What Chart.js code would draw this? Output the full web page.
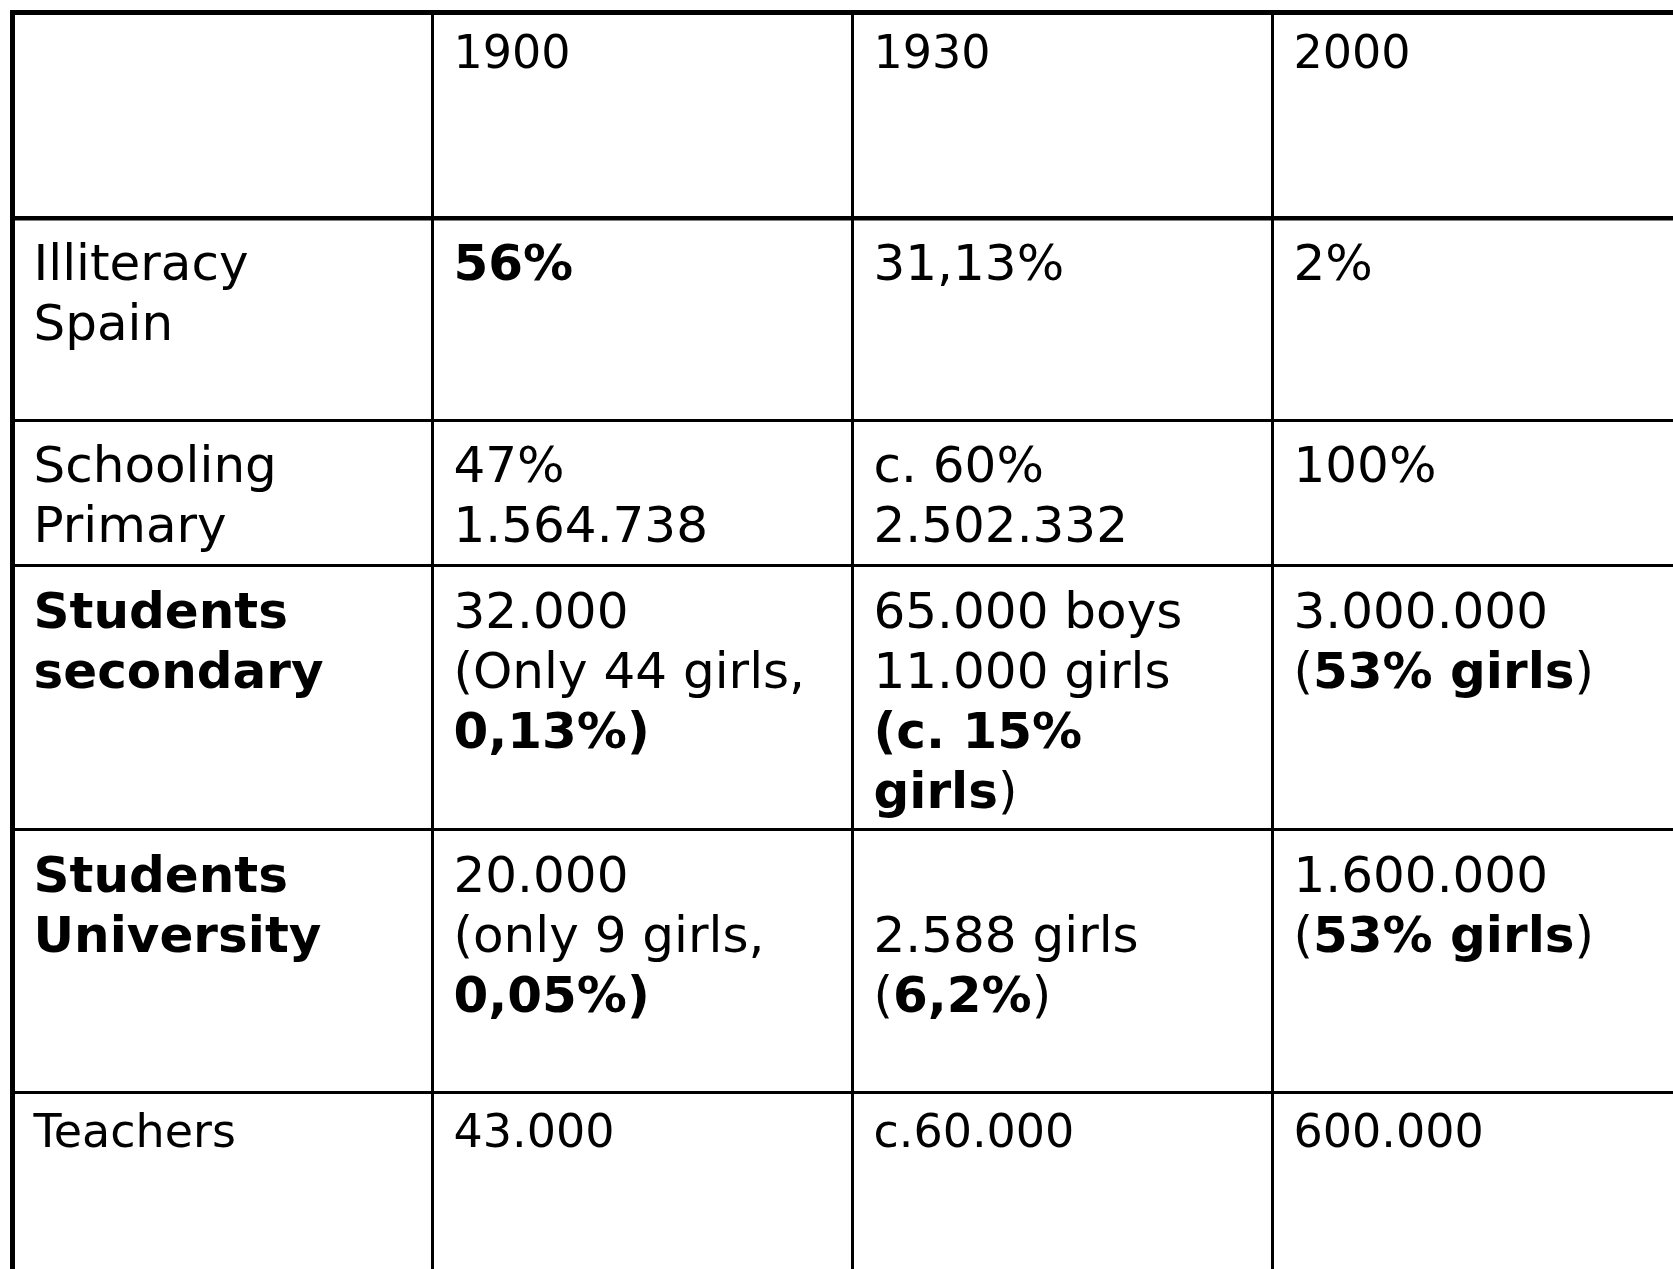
<!DOCTYPE html>
<html>
<head>
  <title>Education in Spain 1900 - 2000</title>
  <script src="https://cdn.jsdelivr.net/npm/chart.js"></script>
  <style>
    body {
        margin: 0;
        background: #fff;
    }
    .wrap {
        width: 1673px;
        height: 1269px;
    }
  </style>
</head>
<body>
  <div class="wrap"><canvas id="tableChart"></canvas></div>

  <script>
    // column headers and row labels (*...* = bold)
    const years = ['1900', '1930', '2000'];
    const rowLabels = [
      ['Illiteracy', 'Spain'],
      ['Schooling', 'Primary'],
      ['*Students*', '*secondary*'],
      ['*Students*', '*University*'],
      ['Teachers']
    ];
    const col1900 = [
      ['*56%*'],
      ['47%', '1.564.738'],
      ['32.000', '(Only 44 girls,', '*0,13%)*'],
      ['20.000', '(only 9 girls,', '*0,05%)*'],
      ['43.000']
    ];
    const col1930 = [
      ['31,13%'],
      ['c. 60%', '2.502.332'],
      ['65.000 boys', '11.000 girls', '*(c. 15%*', '*girls*)'],
      ['', '2.588 girls', '(*6,2%*)'],
      ['c.60.000']
    ];
    const col2000 = [
      ['2%'],
      ['100%'],
      ['3.000.000', '(*53% girls*)'],
      ['1.600.000', '(*53% girls*)'],
      ['600.000']
    ];

    // layout: row edges in table pixels, font size per row (header first)
    const rowEdges = [0, 205.5, 407.5, 553, 817, 1079.5];
    const rowFont = [46, 50, 50, 50, 50, 46];
    const colWidth = 420;
    const edge = 2.5; // half the outer border, so it is not clipped
    const visibleCols = 3.9536;
    const visibleHeight = 1256.5;

    // one invisible point per cell, at the cell's top-left corner
    const columns = [[[]].concat(rowLabels)];
    [col1900, col1930, col2000].forEach((col, i) => {
      columns.push([[years[i]]].concat(col));
    });
    const cells = [];
    columns.forEach((col, c) => {
      col.forEach((lines, r) => {
        cells.push({ x: c, y: rowEdges[r], lines: lines, row: r });
      });
    });

    const cellText = {
      id: 'cellText',
      afterDatasetsDraw(chart) {
        const ctx = chart.ctx;
        const meta = chart.getDatasetMeta(0);
        ctx.save();
        ctx.fillStyle = '#000';
        ctx.textBaseline = 'alphabetic';
        meta.data.forEach((pt, i) => {
          const cell = cells[i];
          const size = rowFont[cell.row];
          const gap = size * 1.2;
          cell.lines.forEach((line, li) => {
            let x = pt.x + 21;
            const y = pt.y + gap * (li + 1) + (size > 48 ? 2 : 0);
            // split into regular / bold runs
            line.split('*').forEach((run, k) => {
              if (!run) return;
              ctx.font = (k % 2 ? 'bold ' : '') + size + 'px "DejaVu Sans"';
              ctx.fillText(run, x, y);
              x += ctx.measureText(run).width;
            });
          });
        });
        ctx.restore();
      }
    };

    new Chart(document.getElementById('tableChart'), {
      type: 'scatter',
      data: {
        datasets: [{
          data: cells,
          pointRadius: 0,
          pointHoverRadius: 0
        }]
      },
      options: {
        responsive: true,
        maintainAspectRatio: false,
        animation: false,
        events: [],
        layout: {
          padding: { left: 10, top: 10, right: 0, bottom: 0 }
        },
        scales: {
          x: {
            type: 'linear',
            min: -edge / colWidth,
            max: visibleCols,
            afterBuildTicks: axis => {
              axis.ticks = [0, 1, 2, 3].map(v => ({ value: v }));
            },
            ticks: { display: false },
            border: { display: false },
            grid: {
              drawTicks: false,
              color: '#000',
              lineWidth: c => (c.index === 0 ? 5 : 3)
            }
          },
          y: {
            type: 'linear',
            reverse: true,
            min: -edge,
            max: visibleHeight,
            afterBuildTicks: axis => {
              axis.ticks = rowEdges.map(v => ({ value: v }));
            },
            ticks: { display: false },
            border: { display: false },
            grid: {
              drawTicks: false,
              color: '#000',
              lineWidth: c => (c.index === 0 ? 5 : c.index === 1 ? 4.5 : 3)
            }
          }
        },
        plugins: {
          legend: { display: false },
          tooltip: { enabled: false }
        }
      },
      plugins: [cellText]
    });
  </script>
</body>
</html>
